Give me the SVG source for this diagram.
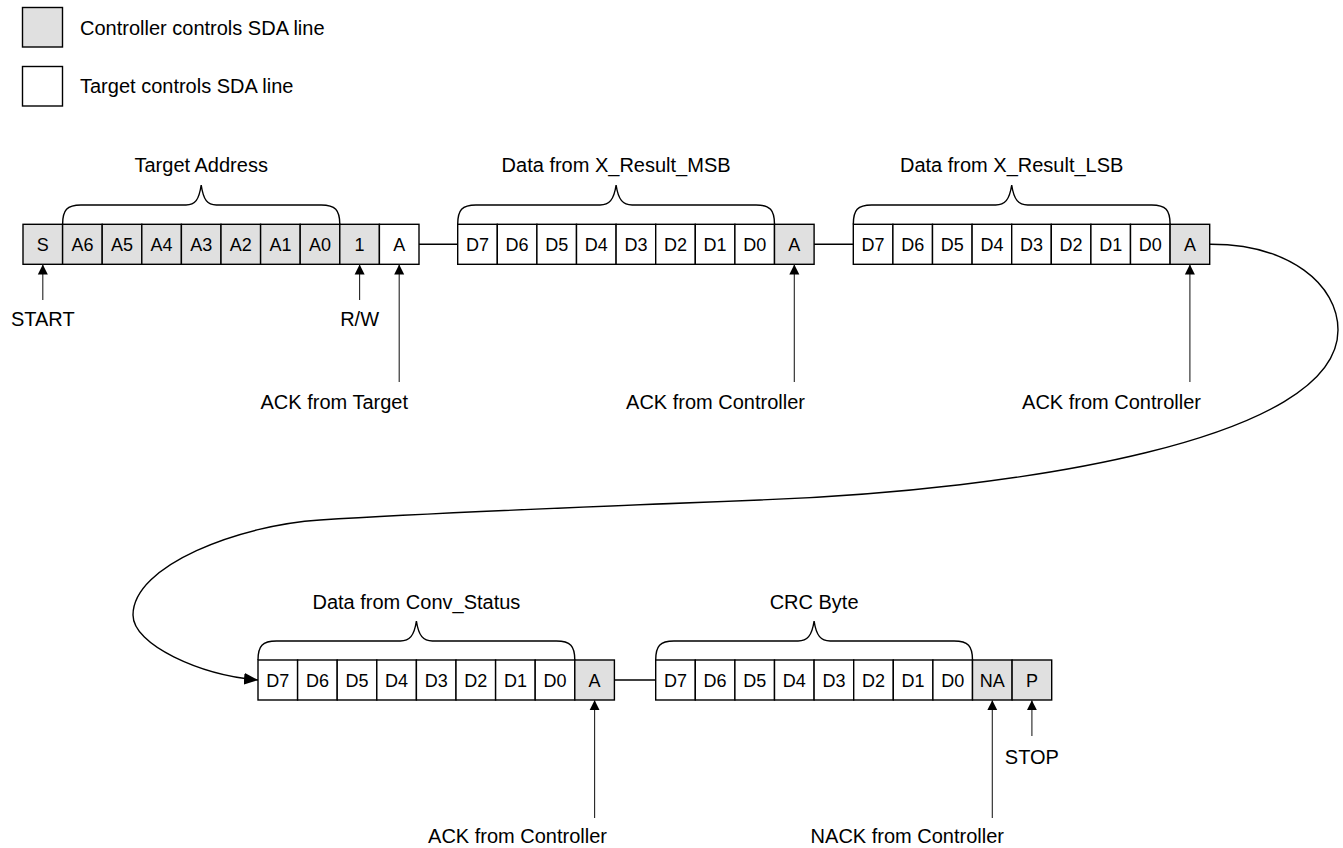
<svg xmlns="http://www.w3.org/2000/svg" width="1343" height="848" viewBox="0 0 1343 848">
<defs>
<style>
text{font-family:"Liberation Sans",Arial,sans-serif;fill:#000}
.lbl{font-size:20px}
.cell{font-size:18px;text-anchor:middle}
.c{fill:#e0e0e0;stroke:#000;stroke-width:1.4}
.t{fill:#fff;stroke:#000;stroke-width:1.4}
.brace{fill:none;stroke:#000;stroke-width:1.4}
.ln{fill:none;stroke:#000;stroke-width:1.4}
.ar{fill:none;stroke:#222;stroke-width:1.1;marker-end:url(#ah)}
.mid{text-anchor:middle}
.end{text-anchor:end}
</style>
<marker id="ah" markerWidth="10" markerHeight="12" refX="10" refY="5" orient="auto" markerUnits="userSpaceOnUse" viewBox="0 0 10 10">
<path d="M0,0 L10,5 L0,10 Z" fill="#000"/>
</marker>
<marker id="ah2" markerWidth="14" markerHeight="12" refX="14" refY="6" orient="auto" markerUnits="userSpaceOnUse" viewBox="0 0 14 12">
<path d="M0,0 L14,6 L0,12 Z" fill="#000"/>
</marker>
</defs>
<rect width="1343" height="848" fill="#fff"/>

<g id="legend">
<rect class="c" x="22.5" y="7.5" width="40" height="39.5"/>
<text class="lbl" x="80" y="34.5">Controller controls SDA line</text>
<rect class="t" x="22.5" y="66.5" width="40" height="39.5"/>
<text class="lbl" x="80" y="93">Target controls SDA line</text>
</g>

<g id="address-frame">
<rect class="c" x="23" y="224.3" width="39.6" height="40"/><text class="cell" x="42.8" y="250.8">S</text>
<rect class="c" x="62.6" y="224.3" width="39.6" height="40"/><text class="cell" x="82.4" y="250.8">A6</text>
<rect class="c" x="102.2" y="224.3" width="39.6" height="40"/><text class="cell" x="122" y="250.8">A5</text>
<rect class="c" x="141.8" y="224.3" width="39.6" height="40"/><text class="cell" x="161.6" y="250.8">A4</text>
<rect class="c" x="181.4" y="224.3" width="39.6" height="40"/><text class="cell" x="201.2" y="250.8">A3</text>
<rect class="c" x="221" y="224.3" width="39.6" height="40"/><text class="cell" x="240.8" y="250.8">A2</text>
<rect class="c" x="260.6" y="224.3" width="39.6" height="40"/><text class="cell" x="280.4" y="250.8">A1</text>
<rect class="c" x="300.2" y="224.3" width="39.6" height="40"/><text class="cell" x="320" y="250.8">A0</text>
<rect class="c" x="339.8" y="224.3" width="39.6" height="40"/><text class="cell" x="359.6" y="250.8">1</text>
<rect class="t" x="379.4" y="224.3" width="39.6" height="40"/><text class="cell" x="399.2" y="250.8">A</text>
<path class="brace" d="M62.6,224.3 C62.6,210 67,205 81,205 L186,205 C195,205 199,200 201.2,185 C203.4,200 207.4,205 216.4,205 L321.2,205 C335.2,205 339.8,210 339.8,224.3"/>
<text class="lbl mid" x="201.2" y="172">Target Address</text>
</g>

<g id="msb-frame">
<rect class="t" x="457.7" y="224.3" width="39.6" height="40"/><text class="cell" x="477.5" y="250.8">D7</text>
<rect class="t" x="497.3" y="224.3" width="39.6" height="40"/><text class="cell" x="517.1" y="250.8">D6</text>
<rect class="t" x="536.9" y="224.3" width="39.6" height="40"/><text class="cell" x="556.7" y="250.8">D5</text>
<rect class="t" x="576.5" y="224.3" width="39.6" height="40"/><text class="cell" x="596.3" y="250.8">D4</text>
<rect class="t" x="616.1" y="224.3" width="39.6" height="40"/><text class="cell" x="635.9" y="250.8">D3</text>
<rect class="t" x="655.7" y="224.3" width="39.6" height="40"/><text class="cell" x="675.5" y="250.8">D2</text>
<rect class="t" x="695.3" y="224.3" width="39.6" height="40"/><text class="cell" x="715.1" y="250.8">D1</text>
<rect class="t" x="734.9" y="224.3" width="39.6" height="40"/><text class="cell" x="754.7" y="250.8">D0</text>
<rect class="c" x="774.5" y="224.3" width="39.6" height="40"/><text class="cell" x="794.3" y="250.8">A</text>
<path class="brace" d="M457.7,224.3 C457.7,210 462,205 476,205 L600.1,205 C609.1,205 613.9,200 616.1,185 C618.3,200 623.1,205 632.1,205 L756.1,205 C770.1,205 774.5,210 774.5,224.3"/>
<text class="lbl mid" x="616.1" y="172">Data from X_Result_MSB</text>
</g>

<g id="lsb-frame">
<rect class="t" x="853.3" y="224.3" width="39.6" height="40"/><text class="cell" x="873.1" y="250.8">D7</text>
<rect class="t" x="892.9" y="224.3" width="39.6" height="40"/><text class="cell" x="912.7" y="250.8">D6</text>
<rect class="t" x="932.5" y="224.3" width="39.6" height="40"/><text class="cell" x="952.3" y="250.8">D5</text>
<rect class="t" x="972.1" y="224.3" width="39.6" height="40"/><text class="cell" x="991.9" y="250.8">D4</text>
<rect class="t" x="1011.7" y="224.3" width="39.6" height="40"/><text class="cell" x="1031.5" y="250.8">D3</text>
<rect class="t" x="1051.3" y="224.3" width="39.6" height="40"/><text class="cell" x="1071.1" y="250.8">D2</text>
<rect class="t" x="1090.9" y="224.3" width="39.6" height="40"/><text class="cell" x="1110.7" y="250.8">D1</text>
<rect class="t" x="1130.5" y="224.3" width="39.6" height="40"/><text class="cell" x="1150.3" y="250.8">D0</text>
<rect class="c" x="1170.1" y="224.3" width="39.6" height="40"/><text class="cell" x="1189.9" y="250.8">A</text>
<path class="brace" d="M853.3,224.3 C853.3,210 857.6,205 871.6,205 L995.7,205 C1004.7,205 1009.5,200 1011.7,185 C1013.9,200 1018.7,205 1027.7,205 L1151.7,205 C1165.7,205 1170.1,210 1170.1,224.3"/>
<text class="lbl mid" x="1011.7" y="172">Data from X_Result_LSB</text>
</g>

<g id="status-frame">
<rect class="t" x="258" y="660" width="39.6" height="40"/><text class="cell" x="277.8" y="686.5">D7</text>
<rect class="t" x="297.6" y="660" width="39.6" height="40"/><text class="cell" x="317.4" y="686.5">D6</text>
<rect class="t" x="337.2" y="660" width="39.6" height="40"/><text class="cell" x="357" y="686.5">D5</text>
<rect class="t" x="376.8" y="660" width="39.6" height="40"/><text class="cell" x="396.6" y="686.5">D4</text>
<rect class="t" x="416.4" y="660" width="39.6" height="40"/><text class="cell" x="436.2" y="686.5">D3</text>
<rect class="t" x="456" y="660" width="39.6" height="40"/><text class="cell" x="475.8" y="686.5">D2</text>
<rect class="t" x="495.6" y="660" width="39.6" height="40"/><text class="cell" x="515.4" y="686.5">D1</text>
<rect class="t" x="535.2" y="660" width="39.6" height="40"/><text class="cell" x="555" y="686.5">D0</text>
<rect class="c" x="574.8" y="660" width="39.6" height="40"/><text class="cell" x="594.6" y="686.5">A</text>
<path class="brace" d="M258,660 C258,646 262.4,641 276.4,641 L400.4,641 C409.4,641 414.2,636 416.4,621 C418.6,636 423.4,641 432.4,641 L556.4,641 C570.4,641 574.8,646 574.8,660"/>
<text class="lbl mid" x="416.4" y="609">Data from Conv_Status</text>
</g>

<g id="crc-frame">
<rect class="t" x="655.7" y="660" width="39.6" height="40"/><text class="cell" x="675.5" y="686.5">D7</text>
<rect class="t" x="695.3" y="660" width="39.6" height="40"/><text class="cell" x="715.1" y="686.5">D6</text>
<rect class="t" x="734.9" y="660" width="39.6" height="40"/><text class="cell" x="754.7" y="686.5">D5</text>
<rect class="t" x="774.5" y="660" width="39.6" height="40"/><text class="cell" x="794.3" y="686.5">D4</text>
<rect class="t" x="814.1" y="660" width="39.6" height="40"/><text class="cell" x="833.9" y="686.5">D3</text>
<rect class="t" x="853.7" y="660" width="39.6" height="40"/><text class="cell" x="873.5" y="686.5">D2</text>
<rect class="t" x="893.3" y="660" width="39.6" height="40"/><text class="cell" x="913.1" y="686.5">D1</text>
<rect class="t" x="932.9" y="660" width="39.6" height="40"/><text class="cell" x="952.7" y="686.5">D0</text>
<rect class="c" x="972.5" y="660" width="39.6" height="40"/><text class="cell" x="992.3" y="686.5">NA</text>
<rect class="c" x="1012.1" y="660" width="39.6" height="40"/><text class="cell" x="1031.9" y="686.5">P</text>
<path class="brace" d="M655.7,660 C655.7,646 660,641 674,641 L798.1,641 C807.1,641 811.9,636 814.1,621 C816.3,636 821.1,641 830.1,641 L954.1,641 C968.1,641 972.5,646 972.5,660"/>
<text class="lbl mid" x="814.1" y="609">CRC Byte</text>
</g>

<g id="connectors">
<path class="ln" d="M419,244.3 H457.7"/>
<path class="ln" d="M814.1,244.3 H853.3"/>
<path class="ln" d="M614.4,680 H655.7"/>
<path class="ln" marker-end="url(#ah2)" d="M1209.7,244.3 C1290,244 1338,285 1338,330 C1338,440 1020,490 760,500 C630,505 450,512 320,520 C240,525 133,565 133,615 C133,645 200,675 258,680"/>
<path class="ar" d="M42.8,300 V264.5"/>
<path class="ar" d="M359.6,300 V264.5"/>
<path class="ar" d="M399.2,382 V264.5"/>
<path class="ar" d="M794.3,382 V264.5"/>
<path class="ar" d="M1189.9,382 V264.5"/>
<path class="ar" d="M594.6,818 V700.2"/>
<path class="ar" d="M992.3,818 V700.2"/>
<path class="ar" d="M1031.9,736 V700.2"/>
</g>

<g id="labels">
<text class="lbl mid" x="42.8" y="326">START</text>
<text class="lbl mid" x="359.6" y="326">R/W</text>
<text class="lbl end" x="408" y="409">ACK from Target</text>
<text class="lbl end" x="805" y="409">ACK from Controller</text>
<text class="lbl end" x="1201" y="409">ACK from Controller</text>
<text class="lbl end" x="607" y="843">ACK from Controller</text>
<text class="lbl end" x="1004" y="843">NACK from Controller</text>
<text class="lbl mid" x="1031.9" y="764">STOP</text>
</g>
</svg>
